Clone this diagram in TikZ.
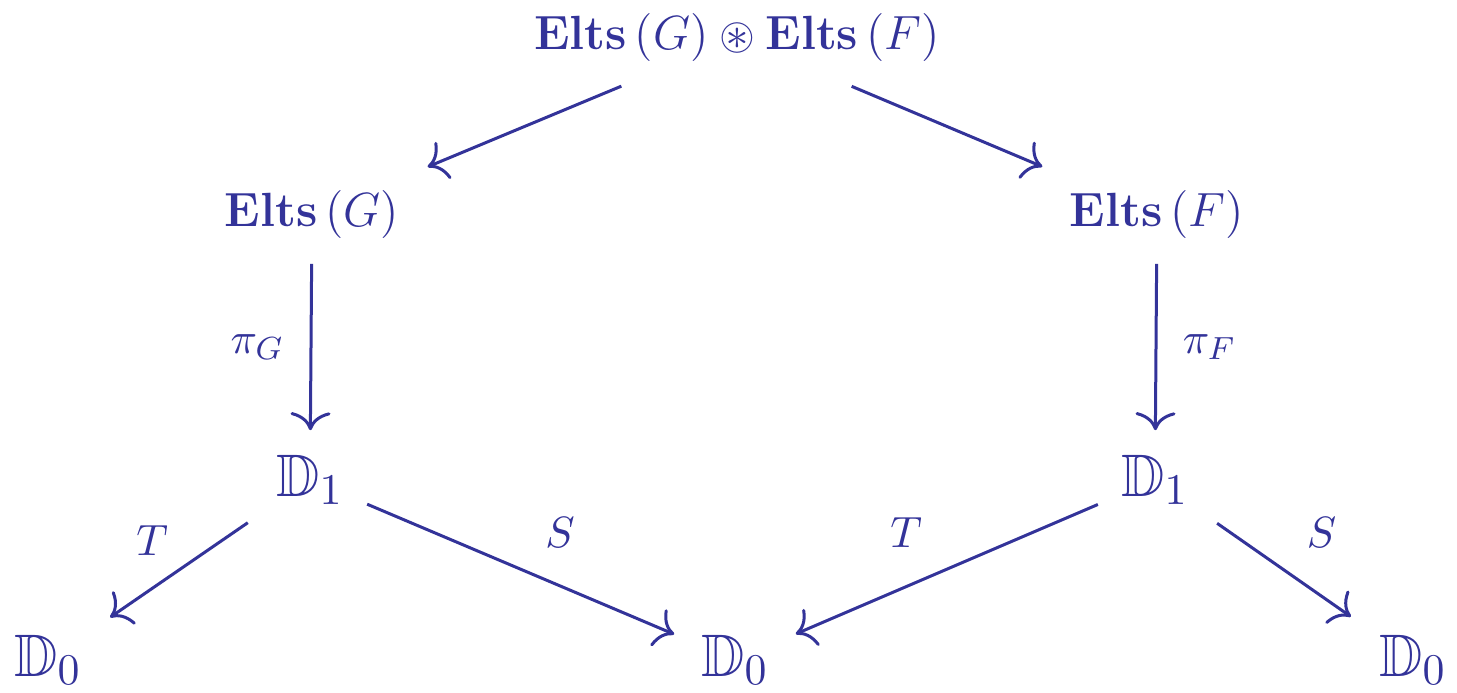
\documentclass[tikz,border=0pt]{standalone}
\usepackage{amssymb}
\usetikzlibrary{arrows.meta}
\definecolor{bl}{RGB}{51,51,153}
\tikzset{
  obj/.style={text=bl, inner sep=2pt, font=\fontsize{11.5}{13}\selectfont},
  dobj/.style={text=bl, inner sep=2pt, font=\fontsize{15}{17}\selectfont},
  mor/.style={draw=bl, line width=0.75pt, -{To[length=4.5pt,width=10pt]}, shorten <=6pt, shorten >=6pt},
  lab/.style={text=bl, font=\fontsize{11}{13}\selectfont}
}
\begin{document}
\begin{tikzpicture}[x=0.25pt,y=-0.25pt]
\useasboundingbox (0,0) rectangle (1457,693);
\node[obj] (top) at (737,38) {$\mathbf{Elts}\,(G)\circledast\mathbf{Elts}\,(F)$};
\node[obj] (eg) at (312,215) {$\mathbf{Elts}\,(G)$};
\node[obj] (ef) at (1157,215) {$\mathbf{Elts}\,(F)$};
\node[dobj] (d1l) at (310,480) {$\mathbb{D}_1$};
\node[dobj] (d1r) at (1155,480) {$\mathbb{D}_1$};
\node[dobj] (d0l) at (48,660) {$\mathbb{D}_0$};
\node[dobj] (d0m) at (735,660) {$\mathbb{D}_0$};
\node[dobj] (d0r) at (1413,660) {$\mathbb{D}_0$};
\draw[mor, shorten <=10pt, shorten >=10pt] (top) -- (eg);
\draw[mor, shorten <=10pt, shorten >=10pt] (top) -- (ef);
\draw[mor, shorten <=4pt, shorten >=4pt] (eg) -- node[lab, left=3pt] {$\pi_G$} (d1l);
\draw[mor, shorten <=4pt, shorten >=4pt] (ef) -- node[lab, right=3pt] {$\pi_F$} (d1r);
\draw[mor, shorten <=6pt, shorten >=6pt] (d1l) -- node[lab, above left=1pt, xshift=2pt, yshift=-1pt] {$T$} (d0l);
\draw[mor, shorten <=4pt, shorten >=5pt] (d1l) -- node[lab, above right=2pt] {$S$} (d0m);
\draw[mor, shorten <=4pt, shorten >=5pt] (d1r) -- node[lab, above left=2pt] {$T$} (d0m);
\draw[mor, shorten <=6pt, shorten >=6pt] (d1r) -- node[lab, above right=2pt] {$S$} (d0r);
\end{tikzpicture}
\end{document}
